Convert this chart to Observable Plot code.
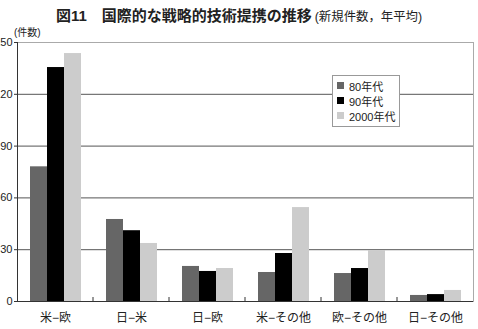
<!DOCTYPE html>
<html><head><meta charset="utf-8">
<script src="https://cdn.jsdelivr.net/npm/d3@7"></script>
<script src="https://cdn.jsdelivr.net/npm/@observablehq/plot@0.6"></script>
<style>
body{margin:0;background:#fff;}
#wrap{position:relative;width:478px;height:329px;font-family:"Liberation Sans","Noto Sans CJK JP",sans-serif;color:#222;}
#title{position:absolute;top:7px;left:0;width:478px;text-align:center;font-size:15px;font-weight:bold;line-height:18px;white-space:nowrap;}
#title span{font-size:12.4px;font-weight:normal;margin-left:3px;}
#unit{position:absolute;left:14px;top:24px;font-size:10px;}
#legend{position:absolute;left:332px;top:75px;width:66px;border:1px solid #999;background:#fff;padding:2px 0 3px 0;font-size:11px;}
#legend .row{display:flex;align-items:center;height:15px;}
#legend .sw{width:7px;height:7px;margin:0 5px 0 4px;}
svg{position:absolute;left:0;top:0;}
</style></head>
<body>
<div id="wrap">
  <div id="title">図11　国際的な戦略的技術提携の推移<span>(新規件数，年平均)</span></div>
  <div id="unit">(件数)</div>
</div>
<script>
const pairs = ["米−欧","日−米","日−欧","米−その他","欧−その他","日−その他"];
const eras = ["80年代","90年代","2000年代"];
const v80 = [78, 47.5, 20.3, 16.8, 16.2, 3.5];
const v90 = [135.5, 41, 17.4, 27.8, 19.1, 4];
const v00 = [143.6, 33.6, 19.1, 54.4, 29.5, 6.4];
const yTicks = [0, 30, 60, 90, 120, 150];
const gridTicks = [30, 60, 90, 120];
const colors = ["#666666", "#000000", "#cccccc"];

const series = [v80, v90, v00];
const data = [];
pairs.forEach((p, i) => eras.forEach((e, j) => data.push({pair: p, era: e, value: series[j][i]})));

const plot = Plot.plot({
  width: 478, height: 329,
  marginTop: 42, marginBottom: 28, marginLeft: 17, marginRight: 5,
  style: {fontFamily: '"Liberation Sans","Noto Sans CJK JP",sans-serif', fontSize: "12px", color: "#222", background: "transparent"},
  fx: {domain: pairs, padding: 0, label: null, axis: null},
  x: {domain: eras, paddingInner: 0, paddingOuter: 0.735, axis: null},
  y: {domain: [0, 150], axis: null},
  color: {domain: eras, range: colors},
  marks: [
    Plot.ruleY(gridTicks, {stroke: "#555"}),
    Plot.ruleY([150], {stroke: "#aaa"}),
    Plot.frame({facet: "super", anchor: "right", stroke: "#aaa"}),
    Plot.barY(data, {fx: "pair", x: "era", y: "value", fill: "era"}),
    Plot.ruleY([0], {stroke: "#333"}),
    Plot.frame({facet: "super", anchor: "left", stroke: "#333"}),
    Plot.axisY({ticks: yTicks, tickSize: 3, tickPadding: 2, label: null, fontSize: 11, stroke: "#333"}),
    Plot.axisFx({anchor: "bottom", tickSize: 0, tickPadding: 12, label: null, fontSize: 12})
  ]
});
document.getElementById("wrap").appendChild(plot);

// group boundary ticks on the x axis (at facet edges)
const fs = plot.scale("fx");
const band = d3.scaleBand().domain(fs.domain).range(fs.range)
  .paddingInner(fs.paddingInner ?? 0).paddingOuter(fs.paddingOuter ?? 0).align(fs.align ?? 0.5);
const y0 = plot.scale("y").apply(0);
const svg = d3.select(plot);
for (let i = 1; i < pairs.length; i++) {
  const xb = band(pairs[i]);
  svg.append("line").attr("x1", xb).attr("x2", xb).attr("y1", y0).attr("y2", y0 - 4).attr("stroke", "#333");
}

// legend
const legend = d3.select("#wrap").append("div").attr("id", "legend");
eras.forEach((e, j) => {
  const r = legend.append("div").attr("class", "row");
  r.append("div").attr("class", "sw").style("background", colors[j]);
  r.append("span").text(e);
});
</script>
</body></html>
